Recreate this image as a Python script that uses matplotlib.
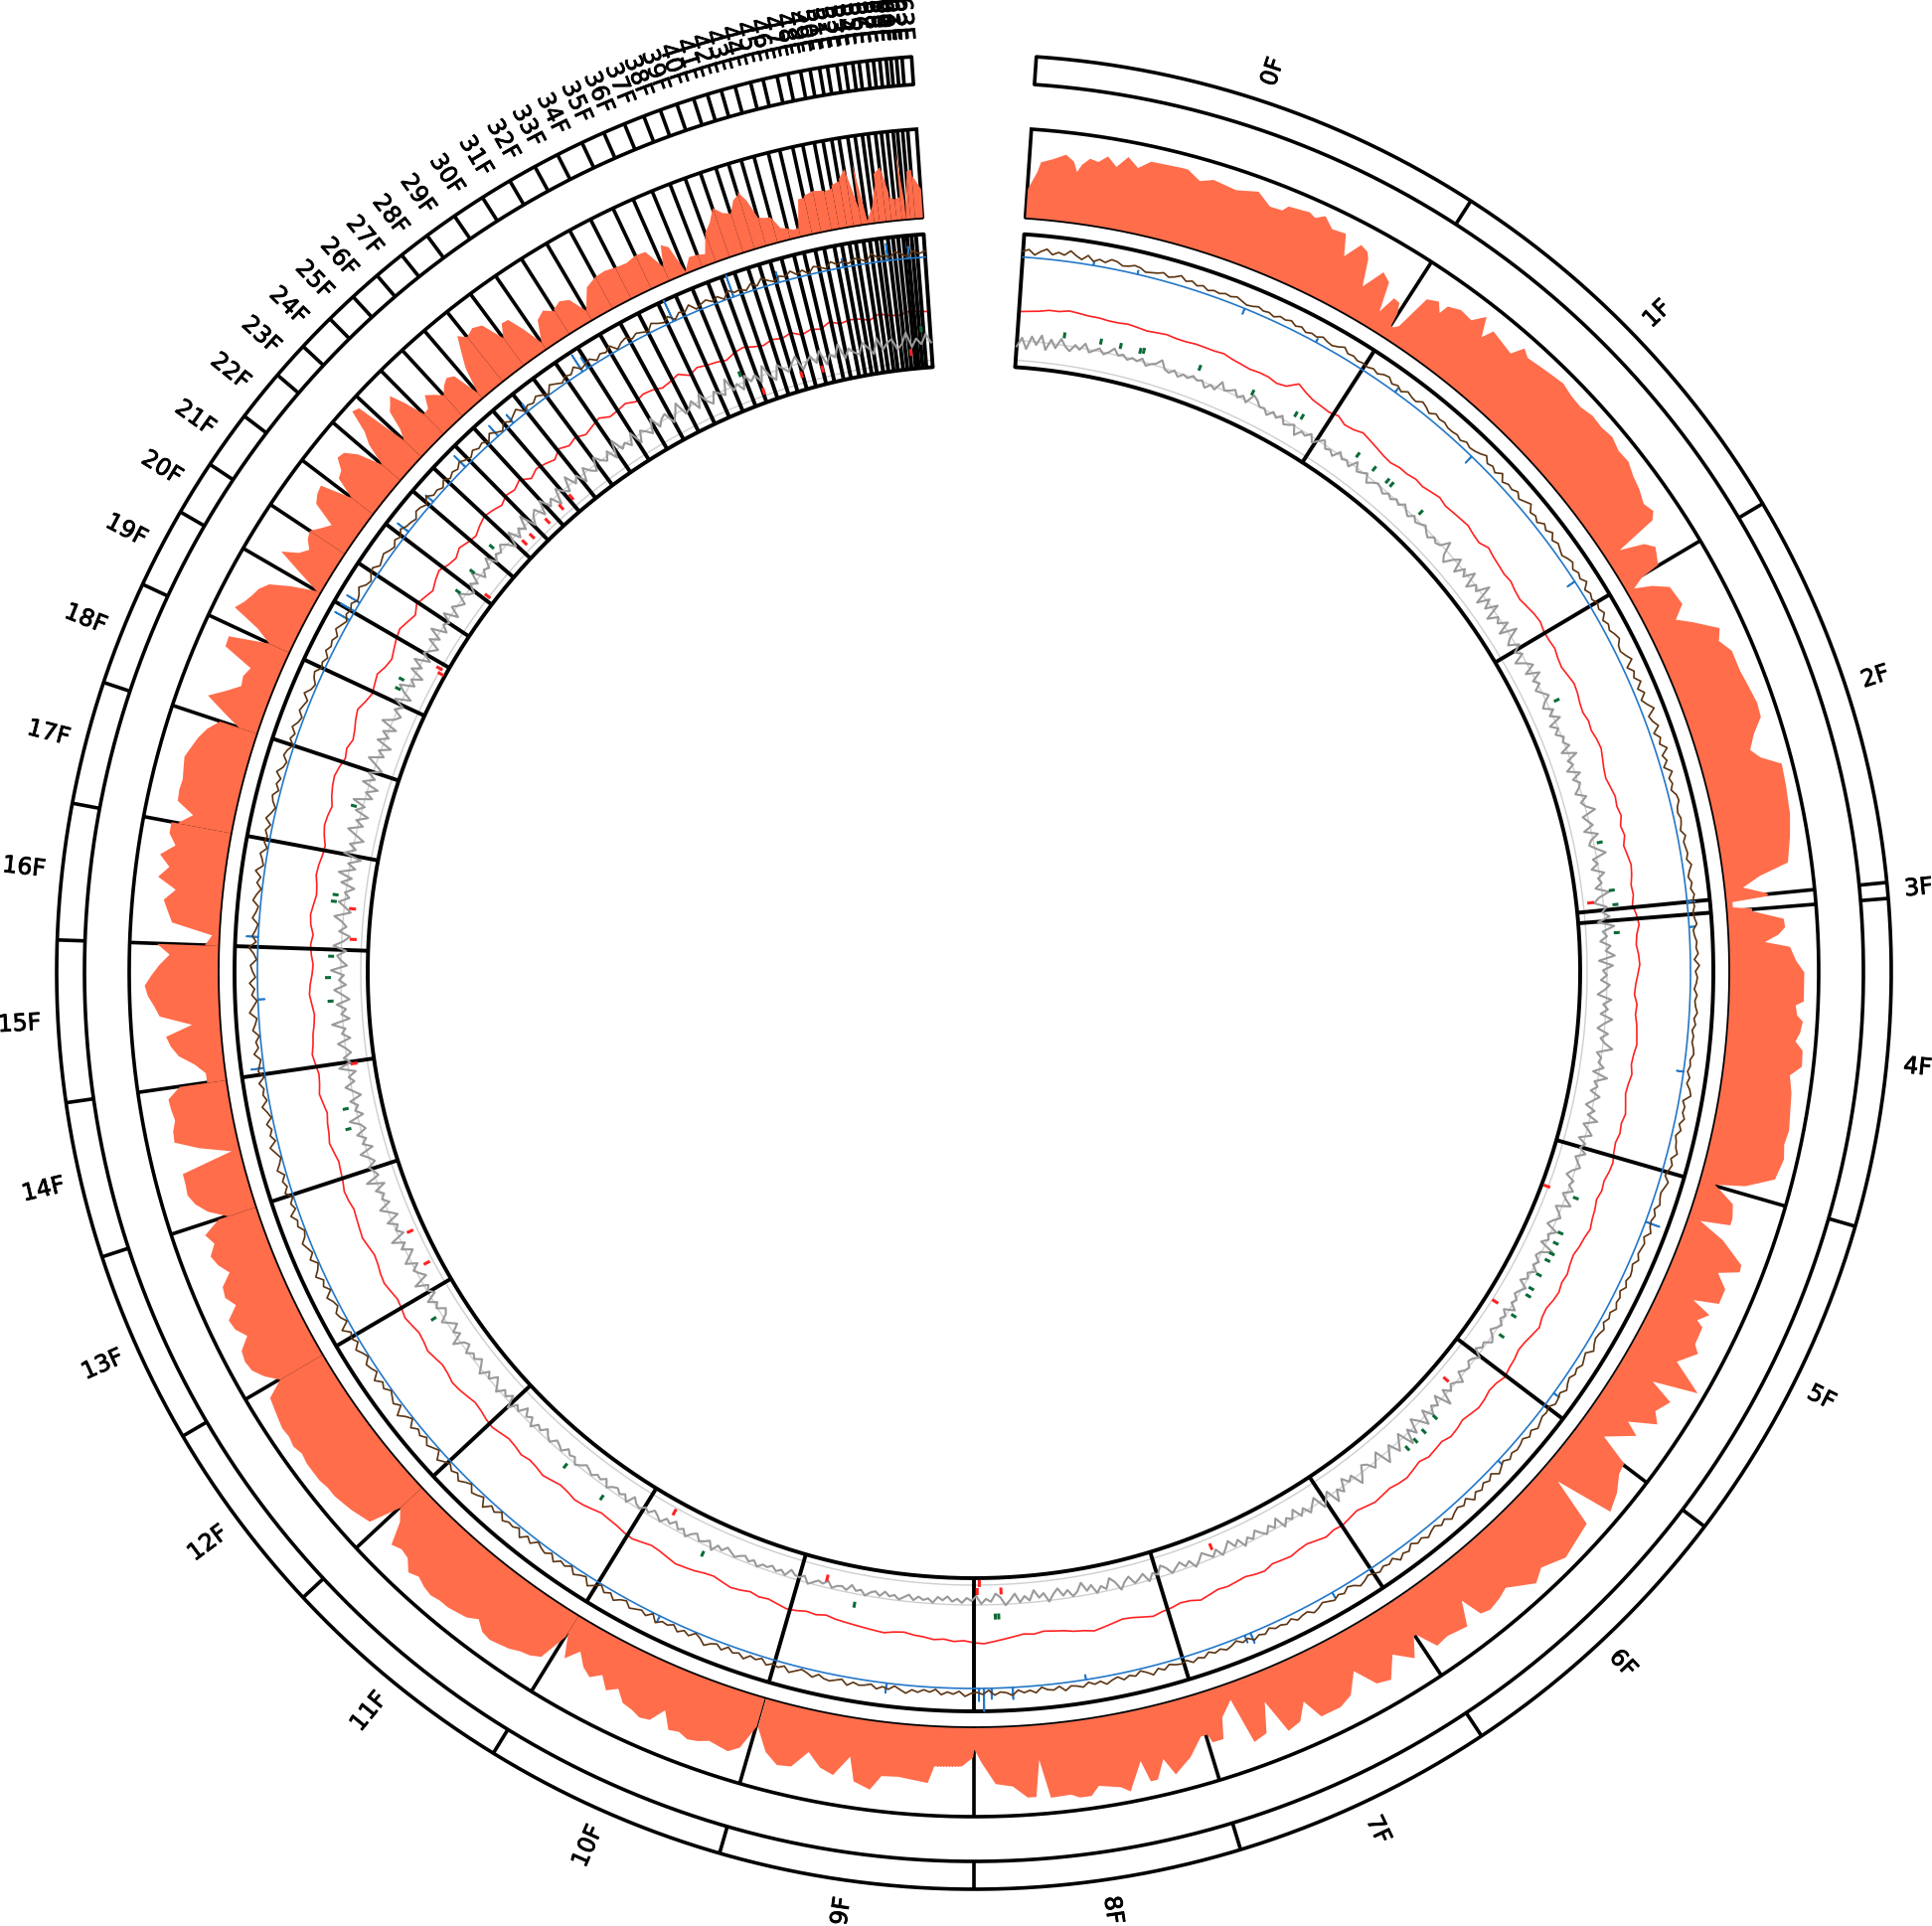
import numpy as np
import matplotlib.pyplot as plt
import matplotlib.patheffects as pe

# all angles in degrees, clockwise from the top
start_angle = 3.9
sector_ends = [32.8, 59.3, 84.4, 85.4, 106.1, 127.2, 146.4, 163.1, 180, 196.1, 211.6, 227, 239.6, 251.9,
               261.8, 272, 280.6, 288.4, 295, 300.1, 303.6, 307.3, 310.6, 313, 315.4, 317.4, 319.4, 321.4,
               323.4, 325.5, 327.6, 329.6, 331.4, 333, 334.7, 336.2, 337.6, 338.9, 340, 341.1, 342.2, 343.1,
               344, 344.9, 345.9, 346.7, 347.6, 348.3, 349.1, 349.7, 350.3, 350.8, 351.4, 351.9, 352.4,
               352.8, 353.3, 353.7, 354.1, 354.5, 354.8, 355.15, 355.5, 356.1]
sector_names = [str(i) + 'F' for i in range(len(sector_ends))]

# orange histogram for sectors 0F to 9F: angle and height above the inner edge of the band
cov_angles = [3.9,4.0,4.5,4.7,5.5,6.4,7.0,7.3,7.6,8.1,8.7,9.3,10,10.7,11.5,12.3,14.4,14.9,15.9,16.8,18.5,20,21.1,22,22.3,23.8,24.3,24.9,25.7,26.7,27.3,28,28.6,28.9,29.5,30.3,31,31.5,31.9,32.4,32.7,32.8,
              33,33.3,33.9,34.7,35.2,35.4,36.3,37.3,38,38.6,39,40.9,41.4,42,43,44,45,46,47,48,49,50,51,52,53,54,55,55.8,56.3,56.8,57.4,58,59.2,
              59.4,59.8,60.3,61,62.5,63.3,64,65.2,66,67,68.5,69.5,71,72,73,74,74.7,75.5,77,79,80.5,82.3,83,83.7,84.3,
              84.5,84.7,85.1,85.3,
              85.5,86.2,86.8,87.3,87.8,88.2,89.2,90,92,92.3,93,93.4,94.2,94.8,95.4,96.5,97.2,98.4,101,102,103,104.5,105.5,106,
              106.2,107,108,108.5,108.9,109.7,110.9,111.4,112,112.9,114,114.5,115,115.7,116,117.3,117.8,119,120.2,121.1,121.7,122.8,123.5,124.5,125,126.4,127.1,
              127.3,127.9,129,130.3,131.1,132,134.7,136.4,137.4,139.2,140,141,141.7,142.2,143,144.5,145.5,146.3,
              146.5,147.3,148.5,149.5,150.5,151.5,152.5,153.5,155,155.7,156.5,157.5,158.3,159,160,160.6,161.6,162,162.8,163,
              163.1,163.5,164.6,165.9,166.5,167.2,167.7,168.1,169.2,169.8,171.3,171.9,172.7,173.3,174.7,175.3,175.7,176.3,177.3,178.5,179.5,180,
              180.1,180.9,182.9,183.3,185.4,186.6,187.3,188.5,189,190,191,192,193,194,195,196]
cov_heights = [30,33,48,58,62,68,62,52,60,67,65,72,63,75,66,75,76,76,68,73,70,76,66,67,73,76,73,79,70,72,51,69,66,60,33,56,50,20,39,38,28,14,
               14,18,56,61,52,62,67,65,77,58,70,64,77,72,74,76,78,75,74,77,76,78,74,75,70,67,62,66,60,16,40,48,41,
               20,8,25,40,43,30,44,66,60,68,68,70,73,72,60,52,60,79,78,76,72,66,36,18,42,
               42,6,6,25,
               25,56,57,50,36,61,67,75,75,67,69,75,73,69,77,78,67,71,75,73,76,72,45,15,
               20,38,42,42,12,40,66,67,47,60,60,35,56,47,55,56,63,48,82,37,63,55,64,38,53,27,60,
               60,62,72,79,19,69,77,67,75,58,62,65,62,40,64,60,62,41,
               41,60,45,66,62,40,60,66,66,45,62,66,30,60,64,16,30,51,51,42,
               42,42,59,72,54,73,73,51,79,73,68,77,77,73,74,35,72,72,60,57,35,22,
               30,39,40,57,53,54,69,63,39,60,55,42,60,62,52,30]

# same histogram for sectors 10F and on, one list per sector, evenly spread
coverage = [
    [30,55,62,60,58,62,64,60,62,45,60,62,58,56,45,52,40,48,42,30,44,20],
    [25,55,60,62,66,68,70,68,60,66,68,70,70,72,70,66,70,60,58,62,40,30],
    [30,62,65,68,70,72,72,74,74,74,72,75,73,74,72,70,68,50],
    [50,62,70,72,70,58,66,68,55,62,60,48,56,60,52,58,40],
    [30,48,58,63,62,62,9,40,63,62,58,60,61,48],
    [20,20,30,45,52,56,29,61,66,72,75,68,60,50,63],
    [15,8,49,54,59,48,67,57,68,54,62,62],
    [56,42,60,61,60,62,64,60,56,50,40],
    [20,40,60,45,32,34,30,62,63,23],
    [23,40,70,64,60,57,50,30,5],
    [5,30,56,40,33,40,43],
    [43,35,28,53,58,60,28],
    [28,50,53,64,62,50,25],
    [25,48,60,83,80,25],
    [25,35,55,60,66,50,29],
    [29,30,42,36,29],
    [29,36,40,36,8],
    [8,35,50,65,58],
    [58,62,58,35],
    [35,48,47,30,9],
    [9,30,35,28],
    [30,34,30,12],
    [12,32,37],
    [37,38,36],
    [36,35,38],
    [38,37,16],
    [16,37,32,3],
    [3,15,14],
    [14,12,32],
    [32,40,53],
    [53,45,42],
    [42,54,58],
    [61,50,30],
    [30,28,27],
    [27,14,12],
    [12,9,10],
    [10,38,38],
    [40,43],
    [43,41],
    [40,42],
    [45,48],
    [50,59],
    [59,17],
    [63,4],
    [4,18],
    [18,40],
    [50,56],
    [56,30],
    [25,22],
    [22,24],
    [69,20],
    [3,49],
    [49,50],
    [45,30],
]

# brown line, radius minus 720
brown = [
    7,9,4,8,11,6,9,7,12,8,5,10,5,8,6,10,9,6,7,9,8,5,6,7,9,6,8,11,7,9,6,8,5,7,6,8,7,9,7,5,6,8,6,7,5,8,7,9,6,8,
    5,7,6,9,7,6,8,11,7,8,6,7,6,8,6,9,10,6,8,5,9,7,6,10,8,5,9,7,8,6,6,7,5,8,6,7,9,12,7,9,6,11,5,8,7,10,6,9,12,6,
    8,5,10,7,11,6,9,7,5,8,10,6,9,7,11,5,8,6,9,7,10,5,8,6,9,11,7,6,9,13,5,10,7,12,6,11,5,9,14,6,8,12,5,10,7,13,6,9,4,11,
    6,8,5,9,10,7,6,8,7,5,9,6,7,8,6,10,7,5,8,6,9,7,8,6,7,9,5,6,8,7,9,5,10,6,8,7,5,8,6,7,9,6,8,5,7,6,8,9,6,7,
    5,8,6,10,12,5,8,7,10,6,9,5,7,8,11,6,9,7,5,10,8,6,7,9,5,8,6,7,10,5,8,7,6,9,5,7,8,6,9,5,8,7,10,6,8,5,9,7,6,8,
    11,5,7,9,6,8,5,7,10,6,8,9,5,7,6,8,10,6,9,5,7,8,6,9,5,8,11,5,9,6,10,7,12,5,9,6,8,11,6,9,5,7,10,6,8,4,9,7,11,5,
    8,6,9,7,5,8,10,6,4,8,6,9,7,5,8,10,6,7,9,5,8,6,7,4,8,6,9,5,7,3,6,8,5,7,4,8,6,9,5,7,6,4,8,5,10,6,3,7,5,8,
    4,6,9,5,7,4,8,6,5,9,4,7,6,3,8,5,7,4,9,6,5,8,3,7,5,6,9,4,7,5,8,3,6,4,7,5,9,6,3,7,5,8,4,6,7,5,9,4,6,8,
    7,4,8,5,3,6,9,4,7,5,8,3,6,4,9,5,7,3,8,4,6,10,5,2,7,4,8,3,6,5,9,2,7,4,6,8,3,5,9,4,7,2,6,10,3,5,8,2,6,4,
    9,3,7,5,2,8,4,10,3,6,5,8,2,7,4,11,3,6,8,2,5,9,4,7,3,6,10,2,5,8,3,7,4,9,2,6,12,3,8,5,2,7,4,10,3,6,8,2,5,9,
    3,7,4,11,2,6,8,3,5,9,2,7,4,10,5,2,8,3,6,9,4,2,7,5,10,3,6,2,8,4,7,3,9,5,2,6,10,3,7,4,8,2,5,9,3,6,4,8,2,7,
    5,3,9,4,6,2,8,5,3,10,6,2,7,4,9,3,6,8,2,5,10,3,7,4,2,8,5,3,9,6,2,7,4,10,3,5,8,2,6,4,7,3,9,5,2,6,8,3,7,4,
    10,5,3,8,6,2,7,4,9,5,3,8,6,4,10,5,3,7,9,4,6,3,8,5,7,4,9,6,3,7,5,8,4,6,10,5,3,7,9,4,6,8,5,3,7,4,9,6,5,3,
    8,7,4,10,5,6,3,8,4,7,5,9,6,4,8,5,7,3,9,5,2,8,4,7,10,3,6,4,8,5,2,9,6,3,7,5,10,4,6,8,3,7,5,9,2,6,8,4,7,5,
    3,9,6,4,8,2,7,5,10,3,6,8,4,7,2,9,5,6,3,8,4,10,6,3,7,5,9,4,7,2,8,6,3,9,5,7,4,8,6,3,10,5,7,4,9,6,3,8,5,7,
]

# grey line, radius minus 620
grey = [
    11,20,9,22,14,24,10,21,13,23,16,12,19,15,22,14,17,20,15,18,23,17,19,15,18,16,20,14,17,19,24,16,14,18,13,17,15,19,16,18,12,17,14,24,17,19,22,16,20,15,
    25,22,17,18,13,19,15,20,13,15,18,9,16,14,19,12,17,21,14,16,12,20,15,17,13,22,14,16,19,11,15,18,16,13,17,14,18,15,20,16,13,18,14,16,19,15,12,17,14,16,
    25,12,7,16,22,9,19,13,24,9,18,14,27,8,20,11,23,7,17,13,22,9,26,15,10,20,12,18,7,16,22,11,24,14,19,12,17,22,15,11,20,14,23,10,17,12,19,16,21,11,
    25,14,18,10,22,13,19,16,11,21,14,18,26,12,16,20,10,23,15,12,19,27,13,17,10,22,15,18,11,24,13,8,20,15,22,10,26,14,18,11,21,16,25,9,23,13,17,11,20,15,
    8,22,14,19,12,24,16,10,21,14,19,27,12,17,15,21,11,26,14,18,12,22,16,10,20,14,25,12,18,23,11,19,15,22,13,17,21,14,10,19,16,22,13,18,25,11,16,20,14,10,
    22,15,18,12,27,16,13,19,15,21,14,17,11,20,16,13,18,15,22,12,17,14,19,16,12,18,21,14,16,11,20,15,13,18,16,12,22,17,14,19,12,27,10,19,14,22,11,25,16,9,
    23,14,28,11,18,25,13,20,27,10,16,22,14,11,19,26,13,17,10,22,16,27,12,18,24,10,15,21,13,19,9,17,13,20,8,16,11,18,14,9,16,12,19,10,15,7,13,18,10,16,
    12,8,14,19,11,15,9,13,17,10,6,14,11,18,9,13,16,8,12,19,10,5,15,11,17,8,13,4,12,16,9,14,6,11,18,9,13,5,15,10,16,7,13,18,10,6,14,11,16,8,
    13,10,15,11,14,9,13,10,16,12,14,11,15,10,13,16,12,14,10,15,11,13,17,12,14,9,15,12,13,16,10,14,12,15,18,11,14,13,9,16,12,15,11,14,13,17,12,15,11,13,
    16,13,10,15,12,19,11,14,16,10,13,18,12,15,9,14,11,17,13,10,15,12,16,14,9,18,12,15,11,13,17,10,14,12,16,13,11,15,18,12,14,10,16,13,11,17,14,9,15,12,
    19,11,15,8,17,13,22,10,16,12,20,14,9,17,12,21,15,10,16,13,19,11,14,24,12,17,9,15,21,13,10,18,14,22,11,16,13,25,10,15,19,12,23,16,10,20,14,26,11,17,
    13,22,9,16,24,12,18,14,21,10,27,13,16,20,12,17,24,10,19,14,22,12,16,26,11,18,14,21,9,16,23,13,18,10,26,14,20,12,17,24,11,19,15,28,10,18,13,22,9,16,
    24,12,19,14,27,11,17,21,12,25,15,9,20,13,18,26,10,16,23,13,18,9,23,13,27,11,19,7,25,14,21,8,17,26,12,20,9,23,15,28,10,18,7,24,13,21,9,17,26,12,
    19,8,24,14,22,10,27,16,11,20,13,24,9,19,26,12,18,8,23,14,25,10,20,15,9,22,13,26,11,18,14,24,10,21,16,12,23,15,11,20,14,26,12,18,15,24,13,19,16,22,
    17,9,24,12,20,14,27,10,18,22,11,25,13,19,8,23,16,12,26,14,20,9,22,15,11,24,17,13,21,10,27,14,18,12,23,9,20,16,11,25,13,19,22,10,17,26,12,15,21,11,
    24,14,9,20,16,12,27,13,18,10,23,15,20,11,26,14,8,22,17,12,19,25,10,16,21,13,24,9,18,14,26,11,20,15,12,23,17,10,25,13,19,22,11,16,27,12,20,14,24,15,
]

# red line, radius minus 660
red = [
    6,7,8,10,10,12,11,10,10,9,9,10,9,8,9,10,9,9,10,10,10,11,9,8,7,8,8,6,8,16,12,9,8,7,9,5,6,9,7,5,3,
    2,4,4,6,5,7,9,7,8,9,10,8,7,11,9,8,7,8,6,5,7,9,10,8,8,9,7,6,8,10,9,7,6,8,7,9,10,8,6,
    5,7,9,8,10,7,9,6,8,10,9,7,8,6,9,11,8,7,9,10,8,6,5,8,7,9,10,11,9,8,10,8,7,9,11,9,
    10,8,9,11,10,8,9,7,9,10,12,10,9,7,8,10,9,11,10,8,9,12,10,8,7,9,10,12,9,8,10,11,9,7,
    9,10,7,8,9,6,8,10,9,7,8,9,7,5,7,9,8,10,8,6,7,9,8,7,10,9,7,8,9,8,10,12,9,8,10,11,
    13,11,9,8,10,12,14,12,11,9,8,7,9,8,10,12,14,16,15,13,14,12,13,11,10,8,9,11,10,9,8,7,
    6,4,6,5,7,8,6,4,5,3,5,6,4,2,3,5,6,7,5,3,2,4,6,5,3,2,1,3,5,6,4,3,5,7,5,4,
    6,4,3,5,7,6,4,3,5,7,8,6,5,7,9,7,6,8,10,8,7,9,11,10,8,7,9,11,10,9,8,10,11,9,8,7,
    9,11,9,8,6,8,10,8,7,9,11,9,8,6,5,7,9,8,6,5,7,8,6,9,10,8,6,7,9,8,6,5,8,10,9,7,
    10,12,13,11,8,10,7,9,12,14,10,7,9,11,7,5,8,11,13,10,7,12,9,6,10,13,9,7,11,8,6,10,
    13,11,8,12,10,14,7,11,9,6,12,8,11,7,10,13,8,9,11,7,10,9,6,8,11,5,9,7,6,4,8,10,
    7,5,8,6,9,4,7,5,10,6,8,7,4,9,6,5,8,7,6,
]

# blue line: flat level with a few spikes, spike angle and spike radius
blue_level = 721
blue_spike_angles = [9.6, 13.2, 22.2, 28.5, 36, 44, 57, 84.4, 86.4, 98, 110.4, 126, 133, 150, 157.3, 157.8, 171, 176.9, 178.6, 179.2, 179.6,
                     187, 206, 262.3, 267.8, 272.8, 299.4, 300.2, 301, 307.9, 311, 314.8, 318.4, 320, 321.5, 326.9, 327.4, 335.2, 340.4,
                     344.2, 349.5, 353.1, 354.8]
blue_spike_radii = [725, 725, 715, 725, 726, 712, 712, 729, 727, 714, 736, 728, 726, 727, 732, 729, 716, 733, 732, 744, 734,
                    731, 728, 734, 714, 733, 738, 737, 736, 735, 731, 737, 735, 732, 730, 741, 734, 744, 744,
                    732, 730, 738, 733]

# points where the grey line leaves its band
green_angles = [8.1, 11.4, 13.2, 15, 15.3, 20.5, 25.7, 30, 30.6, 36.6, 38.5, 40.1, 40.6, 44.2, 65, 78.3, 82.7, 84, 86.5,
                110.6, 114, 115, 116, 116.7, 118.2, 119.6, 120.3, 122.5, 124.6, 134, 135.6, 136.7, 137.7, 177.8, 178.1,
                190.7, 205, 215.3, 219.6, 237.3, 255.9, 257.7, 267.4, 269.5, 271.4, 276.3, 276.9, 285, 296.2, 297.1,
                306.4, 308.6, 311.4, 338.6, 355.3]
green_radii = [650, 650, 650, 650, 651, 652, 650, 651, 652, 651, 650, 649, 649, 648, 650, 646, 650, 652, 651,
               650, 649, 649, 650, 649, 648, 648, 649, 647, 648, 648, 650, 651, 651, 652, 652,
               651, 649, 651, 648, 649, 652, 650, 651, 653, 650, 651, 650, 649, 649, 650,
               648, 649, 650, 649, 652]
low_angles = [83.6, 110.5, 122.3, 130.8, 157.6, 177.5, 179.5, 179.7, 193.6, 209, 242, 245.3, 261.6, 273, 275.8,
              299.2, 299.6, 307.7, 313.7, 314.6, 316.6, 318.4, 319.7, 340.1, 343.9, 345.9, 354.2]
low_radii = [621, 612, 617, 624, 622, 620, 612, 620, 624, 618, 620, 621, 627, 622, 625,
             611, 615, 615, 622, 621, 621, 622, 623, 618, 622, 622, 623]

fig = plt.figure(figsize=(19.44, 19.38), dpi=100)
ax = fig.add_axes([5 / 1944, -15 / 1938, 1950 / 1944, 1950 / 1938], projection='polar')
ax.set_theta_zero_location('N')
ax.set_theta_direction(-1)
ax.set_ylim(0, 975)
ax.axis('off')

rad = np.deg2rad
edges = [start_angle] + sector_ends
arc_deg = np.linspace(start_angle, sector_ends[-1], 1500)
arc_theta = rad(arc_deg)
edge_theta = rad(np.array(edges))
mids = [(edges[i] + edges[i + 1]) / 2 for i in range(len(sector_ends))]

def ring(r_in, r_out, lw=2.6):
    ax.plot(arc_theta, np.full(arc_theta.shape, r_out), color='black', lw=lw, zorder=2, solid_capstyle='round')
    ax.plot(arc_theta, np.full(arc_theta.shape, r_in), color='black', lw=lw, zorder=2, solid_capstyle='round')
    ax.vlines(edge_theta, r_in, r_out, color='black', lw=lw, zorder=2)

# ideogram band
ring(895, 923)

# histogram band
ax.plot(arc_theta, np.full(arc_theta.shape, 850), color='black', lw=2.6, zorder=2)
ax.vlines(edge_theta, 760, 850, color='black', lw=2.6, zorder=2)
ax.fill_between(rad(np.array(cov_angles)), 760, 760 + np.array(cov_heights), color='#ff6d4b', lw=0, zorder=3)
for i in range(len(coverage)):
    th = rad(np.linspace(edges[i + 10], edges[i + 11], len(coverage[i])))
    ax.fill_between(th, 760, 760 + np.array(coverage[i]), color='#ff6d4b', lw=0, zorder=3)
ax.plot(arc_theta, np.full(arc_theta.shape, 760), color='black', lw=1.3, zorder=4)

# inner track
ax.plot(arc_theta, np.full(arc_theta.shape, 617), color='#cfcfcf', lw=1, zorder=1)
ax.plot(arc_theta, np.full(arc_theta.shape, 637), color='#cfcfcf', lw=1, zorder=1)
red_theta = rad(np.linspace(start_angle, sector_ends[-1], len(red)))
ax.plot(red_theta, 660 + np.array(red), color='#ff2222', lw=1.2, zorder=1.5)
ring(610, 744, lw=2.8)

blue_th = np.concatenate([arc_deg, np.ravel([[a - 0.03, a, a + 0.03] for a in blue_spike_angles])])
blue_r = np.concatenate([np.full(arc_deg.shape, blue_level), np.ravel([[blue_level, r, blue_level] for r in blue_spike_radii])])
order = np.argsort(blue_th)
ax.plot(rad(blue_th[order]), blue_r[order], color='#2478c8', lw=1.2, zorder=3)

brown_theta = rad(np.linspace(start_angle, sector_ends[-1], len(brown)))
ax.plot(brown_theta, 720 + np.array(brown), color='#5b3412', lw=1.2, zorder=4)

grey_theta = rad(np.linspace(start_angle, sector_ends[-1], len(grey)))
ax.plot(grey_theta, 620 + np.array(grey), color='#999999', lw=1.5, zorder=4)
ax.vlines(rad(np.array(green_angles)), np.array(green_radii) - 6, green_radii, color='#0b6b36', lw=2.2, zorder=5)
ax.vlines(rad(np.array(low_angles)), np.array(low_radii) + 7, low_radii, color='#ff2222', lw=2.2, zorder=5)

# sector names stand radially outside the band
for name, mid in zip(sector_names, mids):
    if mid < 180:
        rot, ha = 90 - mid, 'left'
    else:
        rot, ha = 270 - mid, 'right'
    ax.text(rad(mid), 940, name, rotation=rot, rotation_mode='anchor', ha=ha, va='center',
            fontsize=17, color='black', family='DejaVu Sans', zorder=6,
            path_effects=[pe.withStroke(linewidth=0.6, foreground='black')])

fig.savefig('out.png', dpi=100)
